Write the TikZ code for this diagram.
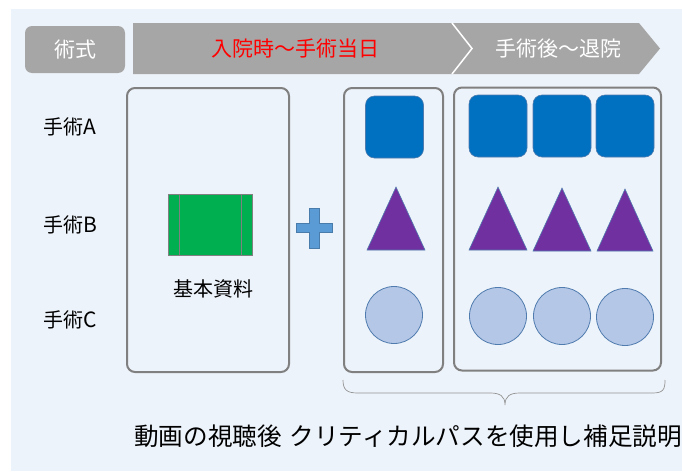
\documentclass[tikz,border=0pt]{standalone}
\usepackage{fontspec}
\setmainfont{Noto Sans CJK JP}
\definecolor{panel}{HTML}{EDF3FA}
\definecolor{bandgray}{HTML}{A6A6A6}
\definecolor{boxline}{HTML}{808080}
\definecolor{sqblue}{HTML}{0070C0}
\definecolor{trpurple}{HTML}{7030A0}
\definecolor{cilight}{HTML}{B4C7E7}
\definecolor{shapeline}{HTML}{4F7BAE}
\definecolor{plusblue}{HTML}{5B9BD5}
\definecolor{green}{HTML}{00B050}
\tikzset{
  bigbox/.style={draw=boxline, line width=2pt, rounded corners=8pt, inner sep=0pt},
  sq/.style={fill=sqblue, draw=shapeline, line width=0.6pt, rounded corners=9pt, minimum width=58pt, minimum height=62pt, inner sep=0pt},
  tri/.style={fill=trpurple, draw=shapeline, line width=0.6pt},
  circ/.style={circle, fill=cilight, draw=shapeline, line width=0.8pt, minimum size=57pt, inner sep=0pt},
  lbl/.style={font=\fontsize{20}{24}\selectfont, text=black, inner sep=0pt},
  bandtxt/.style={font=\fontsize{21}{25}\selectfont, text=white, inner sep=0pt},
}
\begin{document}
\begin{tikzpicture}[x=1pt,y=-1pt]
\useasboundingbox (0,0) rectangle (682,471);
\fill[panel] (11,9) rectangle (682,471);

% header
\node[fill=bandgray, rounded corners=7pt, minimum width=100pt, minimum height=47pt, inner sep=0pt] (hdr) at (75,49.5) {};
\node[bandtxt] (hdrt) at (hdr.center) {術式};
\fill[bandgray] (133,23) -- (452,23) -- (472,48.5) -- (452,74) -- (133,74) -- cycle;
\fill[bandgray] (452,23) -- (639,23) -- (660,48.5) -- (639,74) -- (452,74) -- (472,48.5) -- cycle;
\draw[white, line width=1.5pt] (452,23) -- (472,48.5) -- (452,74);
\node[bandtxt, text=red] (p1) at (295,48.5) {入院時～手術当日};
\node[bandtxt] (p2) at (558,48.5) {手術後～退院};

% row labels
\node[lbl] (ra) at (70,127) {手術\fontsize{21}{24}\selectfont A};
\node[lbl] (rb) at (70,225) {手術\fontsize{21}{24}\selectfont B};
\node[lbl] (rc) at (70,320) {手術\fontsize{21}{24}\selectfont C};

% boxes
\node[bigbox, minimum width=162pt, minimum height=284pt] (b1) at (208,230) {};
\node[bigbox, minimum width=99pt, minimum height=284pt] (b2) at (393.5,230) {};
\node[bigbox, minimum width=207pt, minimum height=283pt] (b3) at (557.5,229) {};

% basic material
\draw[fill=green, draw=boxline, line width=0.8pt] (168,194) rectangle (252,255);
\draw[boxline, line width=0.8pt] (179,194) -- (179,255) (241,194) -- (241,255);
\node[lbl] (kihon) at (213,289) {基本資料};

% plus
\draw[fill=plusblue, draw=plusblue!80!black, line width=0.5pt]
  (296,223.5) -- (309,223.5) -- (309,208) -- (319,208) -- (319,223.5) -- (332,223.5)
  -- (332,232.5) -- (319,232.5) -- (319,248) -- (309,248) -- (309,232.5) -- (296,232.5) -- cycle;

% column box2
\node[sq] (s0) at (394.5,127) {};
\draw[tri] (367,250) -- (396,187) -- (425,250) -- cycle;
\node[circ] (c0) at (394,315) {};

% column box3
\node[sq] (s1) at (498,126) {};
\node[sq] (s2) at (562,126) {};
\node[sq] (s3) at (625,126) {};
\draw[tri] (469,250) -- (498,187) -- (527,250) -- cycle;
\draw[tri] (533,251) -- (562,188) -- (591,251) -- cycle;
\draw[tri] (597,251) -- (625,189) -- (653,251) -- cycle;
\node[circ] (c1) at (498,316) {};
\node[circ] (c2) at (562,316) {};
\node[circ] (c3) at (625,317) {};

% brace
\coordinate (bl) at (343,380);
\coordinate (br) at (665,380);
\coordinate (bt) at (505,405);
\draw[boxline!85, line width=0.7pt]
  (bl) .. controls (343,390) and (347,393) .. (358,393) -- (490,393)
  .. controls (500,393) and (505,396) .. (bt)
  .. controls (505,396) and (510,393) .. (520,393) -- (652,393)
  .. controls (663,393) and (665,390) .. (br);

\node[anchor=west, inner sep=0pt, font=\fontsize{24.6}{29}\selectfont] (bottom) at (134,436) {動画の視聴後\hspace{8pt}クリティカルパスを使用し補足説明};
\end{tikzpicture}
\end{document}
